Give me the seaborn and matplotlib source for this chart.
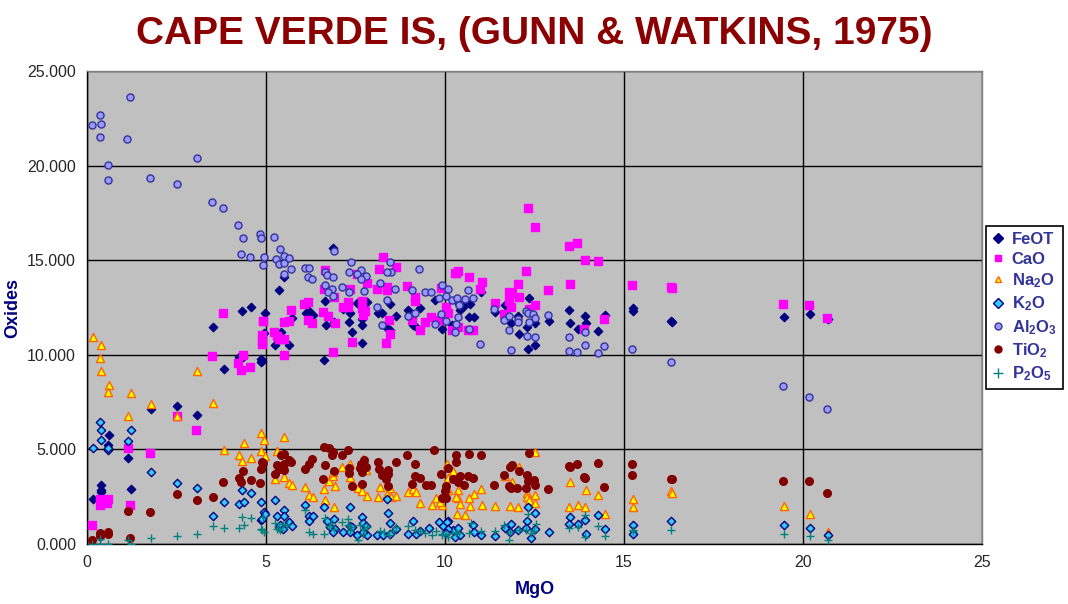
import numpy as np
import pandas as pd
import matplotlib
matplotlib.use("Agg")
import matplotlib.pyplot as plt
import seaborn as sns
from matplotlib.lines import Line2D

feot_mgo = [5.37, 4.33, 4.57, 4.97, 3.51, 5.25, 4.94, 4.24, 4.37, 4.86, 4.9, 3.83, 1.78, 2.51, 3.06,
            0.61, 0.58, 1.15, 0.4, 0.39, 0.4, 0.17, 1.23, 6.87, 5.49, 5.73, 6.12, 6.2, 6.3, 6.65,
            5.42, 5.64, 6.68, 6.91, 7.15, 7.36, 7.55, 7.82, 7.32, 7.67, 7.69, 7.39, 7.68, 6.62, 4.87,
            8.13, 8.25, 8.47, 8.39, 8.47, 8.63, 8.97, 9.3, 9.1, 9.17, 9.71, 9.93, 10.2, 10.38,
            11.0, 12.36, 10.69, 10.54, 10.41, 10.67, 10.81, 11.41, 11.68, 11.84, 12.06, 12.29, 12.5,
            12.51, 12.32, 12.03, 12.9, 13.46, 13.49, 13.71, 13.91, 13.94, 14.27, 14.48, 15.25, 15.25,
            16.31, 16.33, 19.47, 20.19, 20.69]
feot_val = [13.42, 12.31, 12.52, 12.19, 11.45, 10.51, 11.16, 9.91, 9.91, 9.8, 9.68, 9.24, 7.16, 7.29, 6.81,
            5.75, 5.24, 4.52, 3.1, 2.85, 2.75, 2.4, 2.9, 15.66, 14.13, 11.93, 12.2, 12.3, 12.1, 12.84,
            11.2, 10.51, 11.57, 11.73, 12.42, 12.19, 12.72, 12.77, 11.73, 11.89, 11.56, 11.23, 10.65, 9.7, 9.6,
            12.19, 12.19, 12.66, 11.43, 11.3, 12.03, 12.35, 12.5, 11.6, 11.5, 12.88, 11.36, 11.59, 12.7,
            13.32, 12.98, 12.7, 12.6, 12.37, 11.98, 11.98, 12.28, 12.61, 11.66, 11.1, 11.45, 11.66,
            10.5, 10.29, 12.05, 11.77, 12.35, 11.66, 11.34, 12.03, 11.66, 11.24, 12.08, 12.5, 12.3,
            11.8, 11.75, 11.98, 12.14, 11.89]

cao_mgo = [3.81, 4.92, 4.88, 4.88, 4.9, 5.23, 5.3, 5.35, 3.5, 4.37, 4.23, 4.31, 4.56, 2.5, 3.05,
           1.14, 1.77, 0.35, 0.37, 0.6, 0.57, 1.21, 0.15, 8.26, 8.17, 8.62, 6.66, 7.54, 7.81, 6.63,
           6.91, 7.34, 8.11, 8.39, 8.39, 8.95, 9.17, 9.17, 6.07, 6.18, 5.71, 6.6, 6.74, 7.14, 7.3,
           7.3, 7.68, 7.67, 7.76, 7.7, 4.93, 5.49, 5.63, 6.18, 6.29, 6.92, 8.44, 5.4, 5.49, 8.45,
           8.36, 7.39, 5.49, 6.86, 9.09, 9.29, 9.45, 9.62, 9.82, 9.9, 10.04, 10.07, 10.2, 10.32, 10.37,
           12.31, 12.5, 13.45, 13.7, 13.92, 14.26, 15.23, 10.29, 10.68, 11.02, 10.99, 12.27, 12.03,
           12.89, 13.48, 11.8, 11.86, 12.06, 11.39, 11.8, 11.83, 12.5, 11.66, 12.36, 9.9, 10.35,
           10.65, 10.79, 13.89, 14.45, 16.3, 16.33, 19.45, 20.18, 20.68]
cao_val = [12.22, 11.8, 11.06, 10.58, 10.74, 11.2, 11.0, 10.86, 9.95, 10.0, 9.58, 9.21, 9.37, 6.76, 6.03,
           5.08, 4.81, 2.36, 2.08, 2.38, 2.17, 2.06, 1.0, 15.19, 14.53, 14.66, 14.48, 14.29, 13.8, 13.5,
           13.07, 13.5, 13.5, 13.4, 13.6, 13.65, 13.07, 12.86, 12.7, 12.8, 12.38, 12.28, 12.06, 12.54, 12.8,
           12.54, 12.86, 12.49, 12.33, 12.12, 11.8, 11.73, 11.8, 11.85, 11.69, 11.69, 11.85, 10.85, 10.85, 11.1,
           10.63, 10.67, 10.0, 10.16, 11.85, 11.32, 11.75, 12.01, 11.85, 13.53, 12.54, 12.22, 11.32, 14.34, 14.41,
           17.78, 16.77, 15.77, 15.93, 15.03, 14.97, 13.7, 14.3, 14.13, 13.86, 13.5, 14.44, 13.76,
           13.44, 13.76, 13.33, 13.26, 13.07, 12.75, 12.86, 12.54, 12.65, 12.17, 12.4, 11.84, 11.48,
           11.32, 11.32, 11.38, 11.9, 13.6, 13.55, 12.7, 12.65, 11.96]

na2o_mgo = [0.17, 0.39, 0.36, 0.39, 0.61, 0.58, 1.23, 3.07, 1.79, 3.52, 1.15, 2.51, 4.86, 4.94, 4.38,
            3.83, 4.25, 4.33, 4.58, 4.87, 4.97, 5.31, 5.25, 5.5, 5.5, 5.65, 5.73, 6.09, 6.2, 6.32,
            6.62, 6.93, 6.76, 6.65, 6.9, 7.13, 7.34, 7.34, 6.88, 6.88, 7.71, 7.8, 7.57, 7.69, 7.81,
            8.18, 8.45, 8.13, 8.39, 8.48, 8.63, 8.97, 9.12, 9.19, 9.3, 9.64, 9.75, 9.93, 10.07, 10.08,
            10.35, 10.05, 10.22, 10.02, 10.37, 10.42, 9.85, 10.3, 10.82, 11.0, 10.67, 10.7, 11.03,
            10.33, 10.56, 11.4, 11.82, 12.04, 12.06, 11.67, 11.86, 12.51, 12.29, 12.5, 12.29, 12.36,
            12.5, 13.49, 13.46, 13.71, 13.91, 13.94, 14.27, 14.48, 15.25, 15.25, 16.32, 16.34, 19.47,
            20.2, 20.7]
na2o_val = [10.92, 10.5, 9.81, 9.17, 8.38, 8.01, 7.96, 9.17, 7.38, 7.43, 6.79, 6.76, 5.89, 5.52, 5.36,
            4.99, 4.73, 4.41, 4.57, 4.89, 4.66, 4.89, 3.41, 5.65, 3.55, 3.25, 3.12, 3.02, 2.61, 2.49,
            2.91, 3.07, 3.33, 2.3, 1.93, 4.07, 4.22, 3.53, 3.6, 3.81, 4.47, 3.9, 2.95, 2.79, 2.56,
            3.02, 2.95, 2.51, 2.65, 2.47, 2.56, 2.77, 2.93, 2.74, 2.19, 2.08, 2.43, 2.08, 3.49, 2.88,
            2.84, 4.25, 3.88, 2.98, 2.42, 2.14, 2.24, 2.47, 2.65, 2.93, 2.43, 2.01, 2.06,
            1.59, 1.53, 2.01, 2.03, 1.93, 4.06, 3.6, 3.28, 4.87, 2.7, 2.61, 2.49, 2.31,
            2.17, 3.28, 1.96, 2.08, 1.93, 2.88, 2.61, 1.57, 2.4, 1.93, 2.79, 2.7, 2.03,
            1.61, 0.64]

k2o_mgo = [0.17, 0.36, 0.39, 0.39, 0.6, 0.6, 1.23, 1.15, 1.79, 2.51, 3.07, 3.82, 3.52, 4.33, 4.58,
           4.24, 4.38, 4.86, 5.25, 4.94, 4.97, 4.87, 5.32, 5.35, 4.89, 5.51, 5.5, 5.4, 5.64, 5.73,
           5.47, 6.09, 6.62, 6.2, 6.32, 6.2, 6.91, 6.69, 6.8, 6.92, 6.87, 7.34, 7.15, 7.36, 7.41,
           7.55, 7.34, 7.68, 7.71, 7.78, 7.81, 7.7, 8.38, 8.41, 8.46, 8.63, 8.11, 8.27, 8.45, 9.1,
           8.97, 9.18, 9.3, 9.56, 9.82, 10.07, 9.94, 10.22, 10.05, 10.08, 10.37, 10.04, 10.28, 10.41,
           10.79, 10.82, 11.0, 11.41, 11.67, 11.83, 11.81, 12.05, 12.29, 12.27, 12.31, 12.51, 12.52,
           12.39, 12.9, 13.49, 13.47, 13.71, 13.91, 13.94, 14.28, 14.48, 15.25, 15.25, 16.32, 19.47,
           20.2, 20.7]
k2o_val = [5.1, 6.44, 6.05, 5.52, 4.99, 5.08, 6.0, 5.47, 3.83, 3.21, 2.98, 2.2, 1.5, 2.83, 2.72,
           2.14, 2.24, 2.24, 2.35, 1.71, 1.61, 1.25, 1.47, 0.9, 1.31, 1.82, 1.5, 1.01, 1.16, 0.97,
           0.81, 2.08, 1.96, 1.47, 1.47, 1.19, 1.34, 1.2, 0.92, 0.81, 0.63, 1.93, 0.66, 0.97, 0.9,
           0.46, 0.66, 1.43, 1.13, 0.94, 0.46, 0.63, 2.38, 1.64, 1.13, 0.81, 0.46, 0.46, 0.55, 1.24,
           0.55, 0.55, 0.67, 0.85, 1.16, 1.22, 0.95, 0.72, 1.16, 0.81, 0.85, 0.6, 0.37, 0.46,
           0.99, 0.63, 0.48, 0.44, 0.85, 1.04, 0.63, 0.72, 1.19, 0.86, 1.94, 1.66, 0.81,
           0.34, 0.62, 1.41, 1.08, 1.04, 1.25, 0.51, 1.53, 0.79, 1.0, 0.53, 1.2, 1.03,
           0.87, 0.46]

al2o3_mgo = [1.21, 0.35, 0.15, 0.38, 0.37, 1.13, 3.06, 0.58, 0.6, 1.77, 2.5, 3.5, 3.81, 4.23, 4.37,
             4.84, 4.85, 5.23, 4.31, 4.56, 4.95, 4.93, 5.29, 5.4, 5.35, 5.49, 5.49, 5.63, 5.71, 5.49,
             6.08, 6.2, 6.18, 6.29, 6.65, 6.7, 6.88, 6.91, 7.38, 7.33, 7.66, 7.55, 7.8, 7.66, 6.64,
             6.85, 7.13, 7.31, 6.73, 6.88, 7.75, 8.45, 8.5, 8.39, 8.18, 8.61, 8.39, 8.11, 8.25, 9.28,
             9.09, 9.45, 9.62, 9.93, 10.07, 9.82, 10.04, 10.2, 10.34, 8.96, 9.17, 9.71, 9.9, 10.04,
             10.29, 10.32, 10.65, 10.55, 10.79, 10.4, 10.37, 10.68, 10.99, 11.38, 11.66, 11.8, 11.8,
             12.03, 12.05, 12.25, 12.32, 12.47, 12.5, 12.36, 12.3, 12.5, 11.85, 12.89, 13.47, 13.45,
             13.7, 13.92, 13.9, 14.26, 14.45, 15.23, 16.3, 19.45, 20.18, 20.68]
al2o3_val = [23.65, 22.7, 22.17, 22.2, 21.5, 21.4, 20.4, 20.05, 19.26, 19.37, 19.05, 18.1, 17.78, 16.88, 16.19,
             16.4, 16.17, 16.24, 15.34, 15.19, 15.19, 14.76, 15.08, 15.6, 14.81, 15.24, 14.87, 15.13, 14.55, 14.29,
             14.6, 14.6, 14.1, 14.0, 14.35, 14.2, 14.1, 15.5, 14.92, 14.39, 14.5, 14.29, 14.18, 14.02, 13.7,
             13.49, 13.6, 13.33, 13.33, 13.12, 13.39, 14.92, 14.4, 14.4, 13.8, 13.5, 12.9, 12.54, 11.6, 14.55,
             13.44, 13.3, 13.3, 13.7, 13.5, 13.02, 13.12, 12.91, 13.02, 12.06, 12.22, 11.64, 12.17, 11.8,
             11.22, 11.64, 13.44, 12.95, 13.02, 12.65, 12.01, 11.38, 10.58, 12.42, 11.85, 12.06, 11.32,
             11.9, 11.75, 12.33, 12.19, 12.17, 11.96, 11.75, 11.0, 10.95, 10.25, 12.12, 10.95, 10.2,
             10.16, 11.2, 10.54, 10.1, 10.48, 10.3, 9.63, 8.36, 7.78, 7.14]

tio2_mgo = [4.93, 4.87, 4.37, 4.24, 4.31, 4.57, 4.84, 5.24, 5.3, 5.35, 3.81, 2.5, 3.06, 3.51, 1.14,
            1.77, 0.6, 0.58, 0.37, 0.36, 0.15, 1.21, 4.9, 5.42, 5.49, 5.49, 5.49, 5.63, 5.71, 6.08,
            6.19, 6.28, 6.66, 6.62, 6.75, 6.88, 6.85, 6.6, 6.89, 7.13, 7.3, 7.32, 7.32, 7.4, 7.62,
            7.66, 7.73, 7.75, 7.67, 7.8, 7.67, 8.12, 8.17, 8.25, 8.36, 8.4, 8.42, 8.42, 8.62, 8.95,
            9.17, 9.16, 9.29, 9.08, 9.46, 9.6, 9.7, 9.9, 10.04, 10.0, 10.04, 10.22, 10.32, 10.68,
            11.0, 10.3, 10.07, 10.41, 10.65, 10.79, 10.37, 10.54, 9.91, 11.38, 11.66, 11.81, 11.86,
            12.06, 11.79, 11.84, 12.02, 12.28, 12.31, 12.48, 12.5, 12.25, 12.36, 12.89, 13.45, 13.48,
            13.7, 13.89, 13.92, 14.26, 14.45, 15.23, 15.23, 16.3, 16.33, 19.45, 20.18, 20.68]
tio2_val = [4.29, 3.99, 3.86, 3.49, 3.28, 3.39, 3.25, 3.72, 4.2, 3.97, 3.28, 2.65, 2.33, 2.49, 1.75,
            1.69, 0.62, 0.55, 0.58, 0.41, 0.2, 0.3, 4.34, 4.73, 4.78, 3.9, 4.25, 4.43, 4.31, 3.95,
            4.25, 4.5, 4.15, 5.13, 5.08, 4.84, 4.69, 3.44, 3.85, 4.73, 4.96, 4.02, 3.76, 3.05, 4.02,
            4.22, 4.43, 4.16, 3.81, 4.07, 3.17, 4.32, 3.95, 3.65, 3.44, 3.91, 3.7, 3.04, 4.32, 4.73,
            4.25, 3.58, 3.49, 3.17, 3.12, 3.12, 4.96, 3.69, 3.05, 2.8, 2.43, 3.44, 4.69, 4.76,
            4.68, 4.34, 4.0, 3.58, 3.58, 3.49, 3.3, 3.12, 2.45, 3.12, 3.65, 4.07, 4.2,
            3.88, 3.09, 2.95, 2.96, 3.65, 3.32, 3.37, 3.1, 2.98, 4.81, 2.91, 4.13, 4.06,
            4.23, 3.55, 3.49, 4.29, 3.02, 4.23, 3.65, 3.46, 3.44, 3.33, 3.33, 2.7]

p2o5_mgo = [0.15, 0.37, 0.36, 0.6, 1.15, 1.22, 1.79, 2.51, 3.07, 3.52, 3.83, 4.25, 4.38, 4.33, 4.58,
            4.87, 4.94, 4.92, 5.25, 5.35, 4.89, 5.32, 5.47, 5.4, 5.58, 6.09, 6.2, 6.32, 6.62, 6.65,
            6.76, 6.81, 6.91, 7.13, 7.29, 7.3, 7.36, 7.57, 7.37, 7.62, 7.73, 7.83, 7.71, 8.18, 8.31,
            8.43, 8.54, 8.63, 8.98, 9.15, 9.3, 9.45, 9.65, 9.76, 9.91, 10.04, 10.32, 9.92, 10.07,
            10.2, 10.39, 10.66, 10.72, 11.0, 11.4, 11.66, 11.82, 11.8, 12.08, 12.25, 12.31, 12.48,
            12.53, 12.39, 13.47, 13.71, 13.92, 13.91, 14.27, 14.47, 15.25, 15.25, 16.32, 19.47,
            20.2, 20.7]
p2o5_val = [0.02, 0.26, 0.02, 0.02, 0.2, 0.0, 0.34, 0.44, 0.55, 0.97, 0.87, 0.87, 1.03, 1.45, 1.4,
            0.79, 0.66, 1.43, 1.11, 0.87, 0.76, 0.81, 1.04, 0.72, 0.99, 1.82, 0.62, 0.55, 0.55, 1.38,
            0.95, 1.13, 0.81, 1.16, 1.31, 0.99, 0.76, 0.21, 0.9, 0.99, 0.81, 0.9, 0.55, 0.69, 0.62,
            0.48, 0.67, 0.9, 0.97, 0.72, 0.71, 0.6, 0.46, 0.71, 0.55, 0.51, 0.62, 0.46, 0.35,
            0.6, 0.58, 0.58, 1.13, 0.71, 0.71, 1.03, 0.63, 0.23, 0.74, 0.76, 1.61, 0.67,
            1.04, 0.58, 0.85, 0.88, 1.55, 0.37, 0.94, 0.41, 0.69, 0.76, 0.72, 0.55,
            0.44, 0.23]

# label, x, y, marker, face, edge, size
series = [
    ("FeOT", feot_mgo, feot_val, "D", "#000080", "#000080", 18),
    ("CaO", cao_mgo, cao_val, "s", "#FF00FF", "#FF00FF", 26),
    ("Na$_2$O", na2o_mgo, na2o_val, "^", "#FFFF00", "#FF6600", 34),
    ("K$_2$O", k2o_mgo, k2o_val, "D", "#33CCFF", "#000080", 18),
    ("Al$_2$O$_3$", al2o3_mgo, al2o3_val, "o", "#9999FF", "#333399", 26),
    ("TiO$_2$", tio2_mgo, tio2_val, "o", "#800000", "#800000", 30),
    ("P$_2$O$_5$", p2o5_mgo, p2o5_val, "+", "#008080", "#008080", 40),
]

sns.set_style("white")
plt.rcParams["font.family"] = ["Liberation Sans", "DejaVu Sans"]
plt.rcParams["mathtext.fontset"] = "custom"
plt.rcParams["mathtext.rm"] = "Liberation Sans:bold"
plt.rcParams["mathtext.default"] = "rm"

fig = plt.figure(figsize=(10.68, 6.04), dpi=100)
ax = fig.add_axes([87 / 1068, 1 - 544 / 604, (982 - 87) / 1068, (544 - 71) / 604])
ax.set_facecolor("#C0C0C0")

handles = []
for lab, xs, ys, mk, fc, ec, sz in series:
    df = pd.DataFrame({"MgO": xs, "val": ys})
    if mk == "+":
        sns.scatterplot(data=df, x="MgO", y="val", marker="+", color=fc, s=sz, linewidth=1.0, ax=ax, zorder=3)
    else:
        sns.scatterplot(data=df, x="MgO", y="val", marker=mk, color=fc, edgecolor=ec, s=sz,
                        linewidth=1.0, ax=ax, zorder=3)
    handles.append(Line2D([], [], linestyle="none", marker=mk, markersize=5 if mk != "+" else 7,
                          markerfacecolor=fc, markeredgecolor=ec, markeredgewidth=1, label=lab))

ax.set_xlim(0, 25)
ax.set_ylim(0, 25)
ax.set_xticks(np.arange(0, 26, 5))
ax.set_yticks(np.arange(0, 26, 5))
ax.set_yticklabels([f"{v:.3f}" for v in np.arange(0, 26, 5)])
ax.grid(True, color="black", linewidth=1)
ax.set_axisbelow(True)
ax.tick_params(axis="both", direction="out", length=5, width=1, color="black", labelsize=11.5, pad=3)
for s in ["left", "bottom"]:
    ax.spines[s].set_color("black")
    ax.spines[s].set_linewidth(1)
for s in ["top", "right"]:
    ax.spines[s].set_color("#808080")
    ax.spines[s].set_linewidth(1)

ax.set_xlabel("MgO", fontsize=13, fontweight="bold", color="#000080", labelpad=8)
ax.set_ylabel("Oxides", fontsize=13, fontweight="bold", color="#000080", labelpad=4)

fig.text(0.5, 1 - 34 / 604, "CAPE VERDE IS, (GUNN & WATKINS, 1975)", ha="center", va="center",
         fontsize=28, fontweight="bold", color="#8B0000")

leg = fig.legend(handles=handles, loc="upper left", bbox_to_anchor=(986 / 1068, 1 - 226 / 604),
                 frameon=True, fancybox=False, edgecolor="black", framealpha=1,
                 prop={"size": 12, "weight": "bold"}, labelspacing=0.28, handlelength=0.7,
                 handletextpad=0.5, borderpad=0.35, borderaxespad=0)
for t in leg.get_texts():
    t.set_color("#333399")
leg.get_frame().set_linewidth(1.2)

fig.savefig("out.png", dpi=100, facecolor="white")
